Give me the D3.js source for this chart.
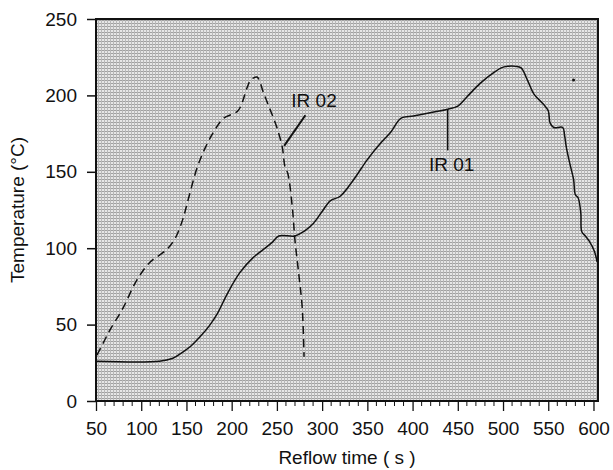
<!DOCTYPE html>
<html>
<head>
<meta charset="utf-8">
<script src="https://cdn.jsdelivr.net/npm/d3@7"></script>
<style>
  body { margin: 0; background: #fff; }
  text { font-family: "Liberation Sans", Arial, sans-serif; fill: #111; }
</style>
</head>
<body>
<div id="chart"></div>
<script>
// IR 01 (solid) reflow profile: time (s), temperature (°C)
var ir01Time = [50, 120, 135, 146, 155, 165, 175, 184, 195, 209, 224, 237, 245, 252, 270, 280, 290, 300, 309, 320,
  335, 350, 365, 376, 387, 401, 418, 439, 450, 460, 475, 490, 498, 505, 514, 520, 527, 534, 545, 550,
  552, 556, 566, 568, 570, 574, 578, 580, 583, 586, 587, 591, 595, 601, 604];
var ir01Temp = [26, 26, 28, 32, 36, 42, 49, 57, 70, 84, 94, 100, 104, 108, 108, 111, 116, 124, 131, 134,
  145, 158, 169, 176, 185, 186.5, 188.5, 191, 193, 199, 208, 215, 218, 219, 219, 218, 210, 201, 194, 190,
  182, 179, 179, 174, 166, 155, 145, 135, 133, 123, 111, 108, 105, 98, 91];

// IR 02 (dashed) reflow profile
var ir02Time = [51, 58, 65, 80, 95, 110, 128, 138, 146, 152, 162, 171, 180, 191, 207, 217, 221, 228,
  235, 243, 250, 256, 259, 262, 267, 270, 274, 278, 280];
var ir02Temp = [30, 38, 46, 61, 79, 91, 99, 107, 119, 132, 153, 166, 176, 185, 190, 205, 210, 212,
  202, 190, 179, 166, 153, 149, 127, 105, 84, 61, 29];

var xTicks = [50, 100, 150, 200, 250, 300, 350, 400, 450, 500, 550, 600];
var yTicks = [0, 50, 100, 150, 200, 250];

var chartW = 613, chartH = 470;
var plotL = 96, plotR = 598, plotT = 19, plotB = 401;

var svg = d3.select("#chart").append("svg")
  .attr("width", chartW)
  .attr("height", chartH);

var x = d3.scaleLinear().domain([50, 605]).range([plotL, plotR]);
var y = d3.scaleLinear().domain([0, 250]).range([plotB, plotT]);

// stippled halftone background
var pat = svg.append("defs").append("pattern")
  .attr("id", "stip")
  .attr("patternUnits", "userSpaceOnUse")
  .attr("width", 3).attr("height", 3);
pat.append("rect").attr("width", 3).attr("height", 3).attr("fill", "#e6e6e6");
pat.append("rect").attr("y", 2).attr("width", 3).attr("height", 1).attr("fill", "#a0a0a0");
pat.append("rect").attr("x", 2).attr("width", 1).attr("height", 3).attr("fill", "#b8b8b8");

svg.append("rect")
  .attr("x", plotL).attr("y", plotT)
  .attr("width", plotR - plotL).attr("height", plotB - plotT)
  .attr("fill", "url(#stip)");

// curves
var line = d3.line()
  .x(function(d) { return x(d[0]); })
  .y(function(d) { return y(d[1]); })
  .curve(d3.curveCatmullRom.alpha(0.5));

var ir01 = ir01Time.map(function(t, i) { return [t, ir01Temp[i]]; });
var ir02 = ir02Time.map(function(t, i) { return [t, ir02Temp[i]]; });

svg.append("path")
  .datum(ir01)
  .attr("d", line)
  .attr("fill", "none")
  .attr("stroke", "#111")
  .attr("stroke-width", 1.5);

svg.append("path")
  .datum(ir02)
  .attr("d", line)
  .attr("fill", "none")
  .attr("stroke", "#111")
  .attr("stroke-width", 1.5)
  .attr("stroke-dasharray", "8,5");

// leaders and labels
svg.append("line")
  .attr("x1", x(438.8)).attr("y1", y(191))
  .attr("x2", x(438.8)).attr("y2", y(164))
  .attr("stroke", "#111").attr("stroke-width", 1.5);
svg.append("text")
  .attr("x", x(438.8) + 4).attr("y", 171)
  .attr("text-anchor", "middle")
  .style("font-size", "19px")
  .text("IR 01");

svg.append("line")
  .attr("x1", x(281.5)).attr("y1", y(187))
  .attr("x2", x(258)).attr("y2", y(167))
  .attr("stroke", "#111").attr("stroke-width", 2);
svg.append("text")
  .attr("x", 314).attr("y", 107)
  .attr("text-anchor", "middle")
  .style("font-size", "19px")
  .text("IR 02");

// stray speck in the scan
svg.append("circle")
  .attr("cx", x(578)).attr("cy", y(210)).attr("r", 1.5)
  .attr("fill", "#111");

// axes
var xAxis = svg.append("g")
  .attr("transform", "translate(0," + plotB + ")")
  .call(d3.axisBottom(x).tickValues(xTicks).tickSize(10).tickSizeOuter(0));
xAxis.select(".domain").remove();
xAxis.selectAll("line").attr("stroke", "#111").attr("stroke-width", 1.3);
xAxis.selectAll("text").style("font-size", "19px").attr("dy", "1.1em");

var minor = d3.range(60, 605, 10).filter(function(v) { return v % 50 != 0; });
svg.append("g")
  .selectAll("line")
  .data(minor)
  .enter()
  .append("line")
  .attr("x1", function(d) { return x(d); })
  .attr("x2", function(d) { return x(d); })
  .attr("y1", plotB)
  .attr("y2", plotB + 5)
  .attr("stroke", "#111")
  .attr("stroke-width", 1);

var yAxis = svg.append("g")
  .attr("transform", "translate(" + plotL + ",0)")
  .call(d3.axisLeft(y).tickValues(yTicks).tickSize(9).tickSizeOuter(0).tickPadding(10));
yAxis.select(".domain").remove();
yAxis.selectAll("line").attr("stroke", "#111").attr("stroke-width", 1.5);
yAxis.selectAll("text").style("font-size", "19px");

// frame
svg.append("rect")
  .attr("x", plotL).attr("y", plotT)
  .attr("width", plotR - plotL).attr("height", plotB - plotT)
  .attr("fill", "none")
  .attr("stroke", "#111")
  .attr("stroke-width", 2);

// axis titles
svg.append("text")
  .attr("x", (plotL + plotR) / 2).attr("y", 464)
  .attr("text-anchor", "middle")
  .style("font-size", "19px")
  .text("Reflow time ( s )");

svg.append("text")
  .attr("transform", "translate(24," + (plotT + plotB) / 2 + ") rotate(-90)")
  .attr("text-anchor", "middle")
  .style("font-size", "19px")
  .text("Temperature (°C)");
</script>
</body>
</html>
